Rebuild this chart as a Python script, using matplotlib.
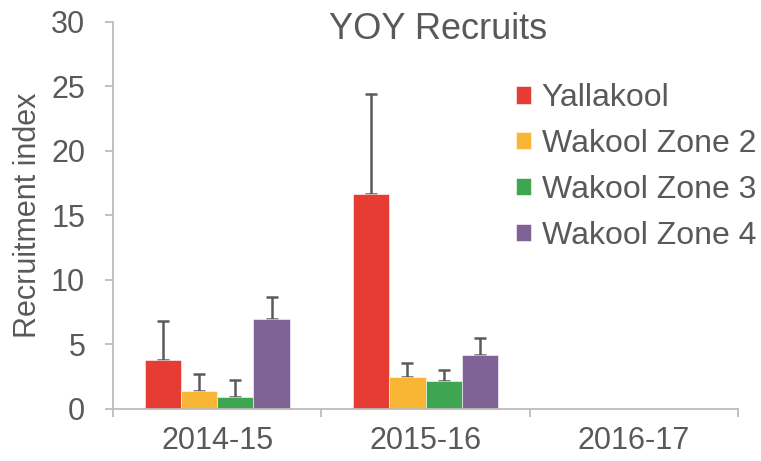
import matplotlib
matplotlib.use("Agg")
import matplotlib.pyplot as plt
import numpy as np

plt.rcParams['font.family'] = ['Liberation Sans', 'DejaVu Sans']

# Recruitment index (mean) and upper standard error for each zone per season
seasons = ["2014-15", "2015-16", "2016-17"]
zones = ["Yallakool", "Wakool Zone 2", "Wakool Zone 3", "Wakool Zone 4"]
yallakool = [3.8, 16.7, np.nan]
wakool_z2 = [1.4, 2.5, np.nan]
wakool_z3 = [0.95, 2.2, np.nan]
wakool_z4 = [7.0, 4.2, np.nan]
yallakool_err = [3.0, 7.7, np.nan]
wakool_z2_err = [1.3, 1.1, np.nan]
wakool_z3_err = [1.3, 0.85, np.nan]
wakool_z4_err = [1.7, 1.3, np.nan]

means = [yallakool, wakool_z2, wakool_z3, wakool_z4]
errors = [yallakool_err, wakool_z2_err, wakool_z3_err, wakool_z4_err]
colors = ["#E63C34", "#F9B635", "#3EA651", "#7F6396"]

text_color = "#595959"
axis_color = "#BFBBB6"

fig = plt.figure(figsize=(7.61, 4.61), dpi=100)
fig.patch.set_facecolor("white")
ax = fig.add_axes([0.1485, 0.1128, 0.8213, 0.8395])

x = np.arange(len(seasons)) + 0.5
width = 0.174
handles = []
for i, (vals, errs, col) in enumerate(zip(means, errors, colors)):
    pos = x + (i - 1.5) * width
    vals = np.array(vals, dtype=float)
    errs = np.array(errs, dtype=float)
    bars = ax.bar(pos, vals, width=width, color=col, edgecolor="white",
                  linewidth=0.4, zorder=2, label=zones[i])
    ax.errorbar(pos, vals, yerr=[np.zeros_like(errs), errs], fmt="none",
                ecolor="#5A5A5A", elinewidth=1.8, capsize=4, capthick=1.8,
                zorder=1)
    handles.append(bars)

ax.set_xlim(0, len(seasons))
ax.set_ylim(0, 30)
ax.set_yticks(np.arange(0, 31, 5))

# Category boundaries get tick marks; labels sit at the centres
ax.set_xticks(np.arange(0, len(seasons) + 1))
ax.set_xticklabels([])
ax.set_xticks(x, minor=True)
ax.set_xticklabels(seasons, minor=True)
ax.tick_params(axis="x", which="minor", length=0, pad=12,
               labelsize=22, labelcolor=text_color)
ax.tick_params(axis="x", which="major", length=6, width=1.3, color=axis_color)
ax.tick_params(axis="y", length=6, width=1.3, color=axis_color,
               labelsize=22, labelcolor=text_color, pad=14)

for side in ["top", "right"]:
    ax.spines[side].set_visible(False)
for side in ["left", "bottom"]:
    ax.spines[side].set_color(axis_color)
    ax.spines[side].set_linewidth(1.3)

ax.set_ylabel("Recruitment index", fontsize=22, color=text_color)
ax.yaxis.set_label_coords(-0.112, 0.5)

fig.text(0.576, 0.937, "YOY Recruits", fontsize=26, color=text_color,
         ha="center", va="center")

ax.legend(handles=handles, labels=zones, loc="upper left",
          bbox_to_anchor=(0.678, 0.82), bbox_transform=fig.transFigure,
          frameon=False, fontsize=23, labelcolor=text_color,
          handlelength=0.48, handleheight=0.48, handletextpad=0.33,
          labelspacing=0.5, borderpad=0, borderaxespad=0)

fig.savefig("out.png", dpi=100, facecolor="white")
